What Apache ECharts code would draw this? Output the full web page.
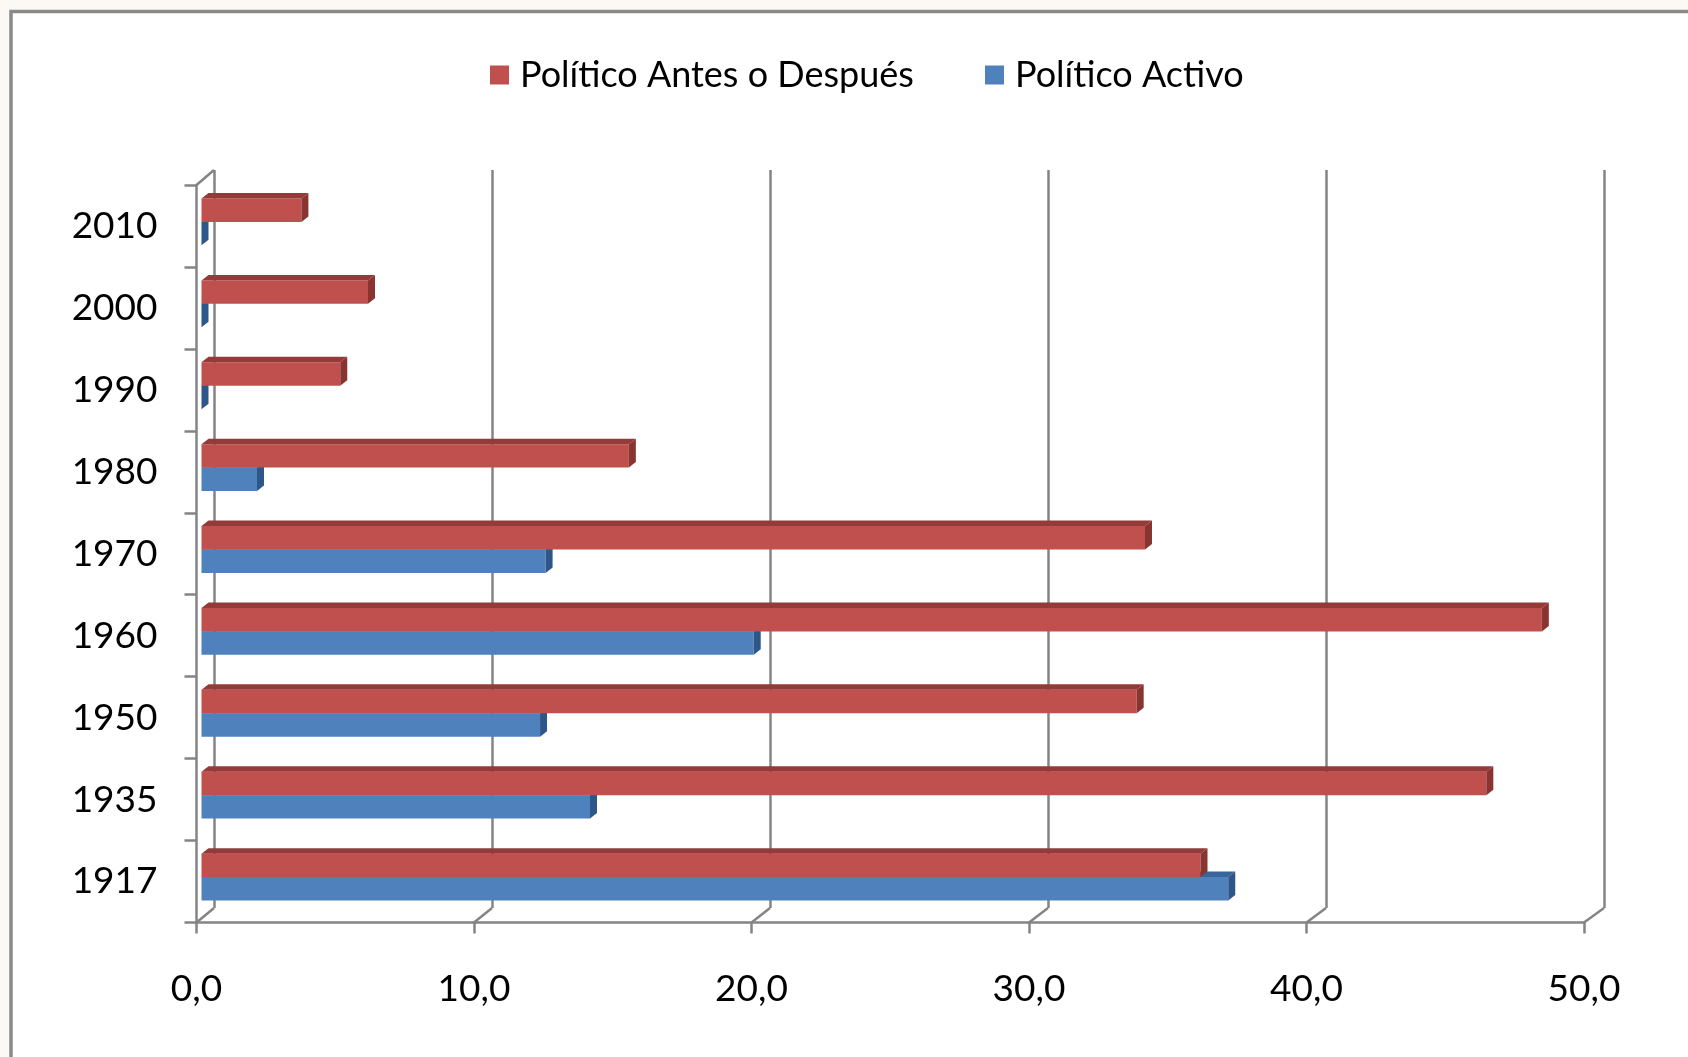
<!DOCTYPE html>
<html>
<head>
<meta charset="utf-8">
<script src="https://cdn.jsdelivr.net/npm/echarts@6/dist/echarts.min.js"></script>
<style>
html,body{margin:0;padding:0;background:#fcf8f4;}
#chart{width:1688px;height:1057px;}
</style>
</head>
<body>
<div id="chart"></div>
<script>
// ---- data ----
const categories = ['1917', '1935', '1950', '1960', '1970', '1980', '1990', '2000', '2010'];
const seriesNames = ['Político Antes o Después', 'Político Activo'];
const antesDespues = [36.0, 46.3, 33.7, 48.3, 34.0, 15.4, 5.0, 6.0, 3.6];
const activo = [37.0, 14.0, 12.2, 19.9, 12.4, 2.0, 0, 0, 0];
const xMin = 0, xMax = 50, xStep = 10;

// ---- layout / style ----
const FONT = "Lato, 'DejaVu Sans Condensed', sans-serif";
const FRONT = {left: 196.5, top: 185, width: 1387.5, height: 737.5};
const BACK = {left: 214, top: 170, width: 1390, height: 738};
const BARS = {left: 201.5, top: 181, width: 1387.5, height: 737};
const GRAY = '#848484';
const COLORS = [
  {front: '#C0504D', top: '#943a38', side: '#8a3432'},
  {front: '#4F81BD', top: '#3a659c', side: '#2e5789'}
];
const DX = 7, DY = -5.5, BAR_FRAC = 0.286;

function makeRender(si) {
  return function (params, api) {
    const cat = api.value(1);
    const v = api.value(0);
    const p0 = api.coord([0, cat]);
    const p1 = api.coord([v, cat]);
    const band = api.size([0, 1])[1];
    const h = band * BAR_FRAC;
    const yc = p0[1];
    const yTop = si === 0 ? yc - h : yc;
    const yBot = yTop + h;
    const x0 = p0[0], x1 = p1[0];
    const c = COLORS[si];
    return {
      type: 'group',
      children: [
        {type: 'rect', shape: {x: x0, y: yTop, width: x1 - x0, height: h}, style: {fill: c.front}},
        {type: 'polygon', shape: {points: [[x0, yTop], [x1, yTop], [x1 + DX, yTop + DY], [x0 + DX, yTop + DY]]}, style: {fill: c.top}},
        {type: 'polygon', shape: {points: [[x1, yTop], [x1, yBot], [x1 + DX, yBot + DY], [x1 + DX, yTop + DY]]}, style: {fill: c.side}}
      ]
    };
  };
}

const fmt = v => v.toFixed(1).replace('.', ',');

const chart = echarts.init(document.getElementById('chart'), null, {renderer: 'canvas'});
const option = {
  animation: false,
  backgroundColor: '#fcf8f4',
  graphic: [{
    type: 'rect', z: -10,
    shape: {x: 11, y: 11.5, width: 1700, height: 1100},
    style: {fill: '#ffffff', stroke: '#8a8a8a', lineWidth: 3.5}
  }],
  legend: [
    {left: 485, top: 52, icon: 'rect', itemWidth: 19, itemHeight: 19,
     data: [seriesNames[0]],
     textStyle: {fontFamily: FONT, fontSize: 36, color: '#000', padding: [0, 0, 0, 6]}},
    {left: 980, top: 52, icon: 'rect', itemWidth: 19, itemHeight: 19,
     data: [seriesNames[1]],
     textStyle: {fontFamily: FONT, fontSize: 36, color: '#000', padding: [0, 0, 0, 6]}}
  ],
  grid: [
    Object.assign({}, BARS, {containLabel: false}),
    Object.assign({}, BACK, {containLabel: false}),
    Object.assign({}, FRONT, {containLabel: false})
  ],
  xAxis: [
    {gridIndex: 0, type: 'value', min: xMin, max: xMax, interval: xStep, show: false},
    {gridIndex: 1, type: 'value', min: xMin, max: xMax, interval: xStep,
     axisLine: {show: false}, axisTick: {show: false}, axisLabel: {show: false},
     splitLine: {show: true, lineStyle: {color: GRAY, width: 2.5}}},
    {gridIndex: 2, type: 'value', min: xMin, max: xMax, interval: xStep,
     axisLine: {show: true, lineStyle: {color: GRAY, width: 2.5}},
     axisTick: {show: true, length: 11, lineStyle: {color: GRAY, width: 2.5}},
     splitLine: {show: false},
     axisLabel: {margin: 48, formatter: fmt, fontFamily: FONT, fontSize: 37, color: '#000'}}
  ],
  yAxis: [
    {gridIndex: 0, type: 'category', data: categories, show: false},
    {gridIndex: 1, type: 'category', data: categories, show: false},
    {gridIndex: 2, type: 'category', data: categories,
     axisLine: {show: true, lineStyle: {color: GRAY, width: 2.5}},
     axisTick: {show: true, length: 12, lineStyle: {color: GRAY, width: 2.5}},
     splitLine: {show: false},
     axisLabel: {margin: 39, fontFamily: FONT, fontSize: 37, color: '#000', padding: [5, 0, 0, 0]}}
  ],
  series: [
    {name: seriesNames[0], type: 'custom', xAxisIndex: 0, yAxisIndex: 0, z: 3,
     itemStyle: {color: COLORS[0].front},
     renderItem: makeRender(0),
     encode: {x: 0, y: 1},
     data: antesDespues.map((v, i) => [v, i])},
    {name: seriesNames[1], type: 'custom', xAxisIndex: 0, yAxisIndex: 0, z: 2,
     itemStyle: {color: COLORS[1].front},
     renderItem: makeRender(1),
     encode: {x: 0, y: 1},
     data: activo.map((v, i) => [v, i])}
  ]
};
chart.setOption(option);

// 3D connectors between front axis plane and back wall
const lines = [];
const fb = FRONT.top + FRONT.height, bb = BACK.top + BACK.height;
for (let v = xMin; v <= xMax; v += xStep) {
  const xf = chart.convertToPixel({xAxisIndex: 2}, v);
  const xb = chart.convertToPixel({xAxisIndex: 1}, v);
  lines.push({type: 'line', z: 5, shape: {x1: xf, y1: fb, x2: xb, y2: bb},
    style: {stroke: GRAY, lineWidth: 2.5}});
}
lines.push({type: 'line', z: 5, shape: {x1: FRONT.left, y1: FRONT.top, x2: BACK.left, y2: BACK.top},
  style: {stroke: GRAY, lineWidth: 2.5}});
chart.setOption({graphic: option.graphic.concat(lines)});
</script>
</body>
</html>
